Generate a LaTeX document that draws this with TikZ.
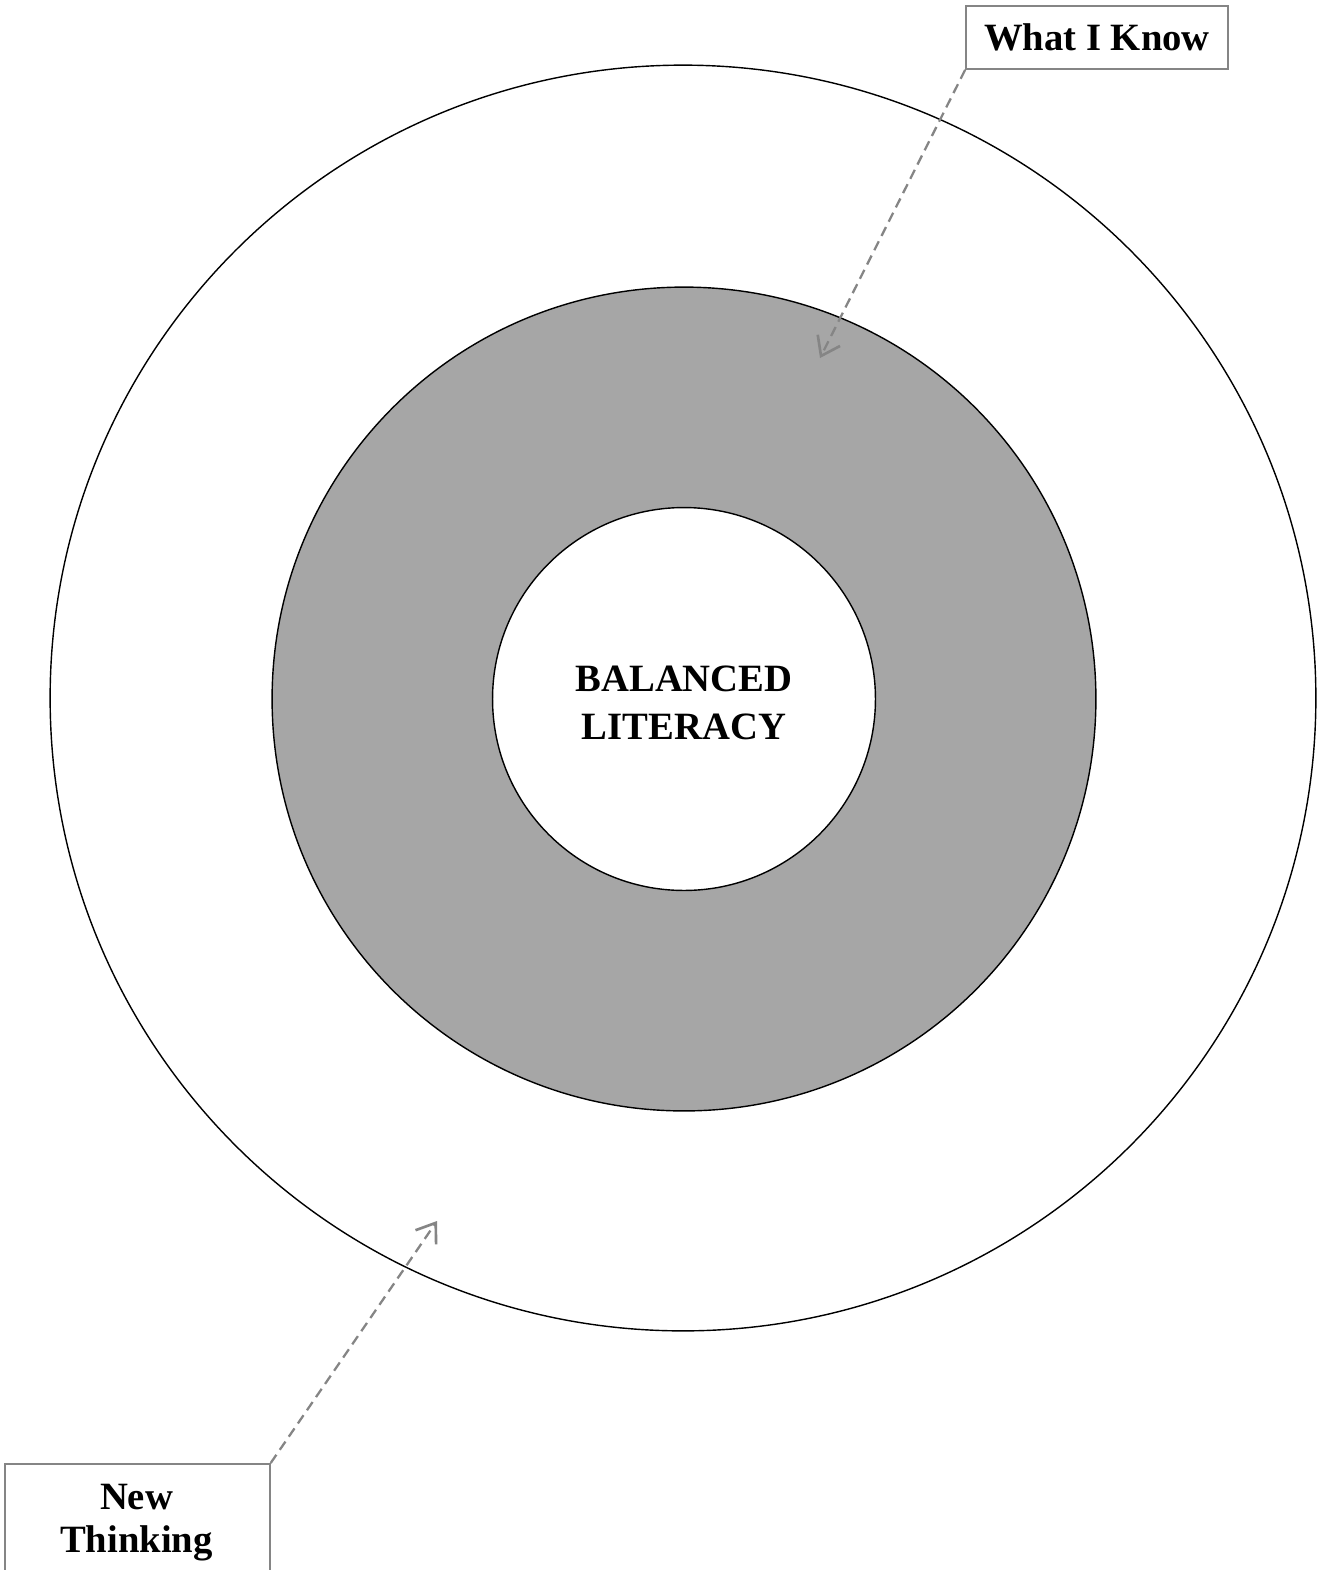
\documentclass[tikz,border=0pt]{standalone}
\usepackage{fontspec}
\setmainfont{Liberation Serif}
\usetikzlibrary{arrows.meta}

\definecolor{ringgray}{HTML}{A6A6A6}
\definecolor{linegray}{HTML}{858585}

\tikzset{
	disc/.style = {circle, draw = black, line width = 0.8pt, inner sep = 0pt},
	boldtext/.style = {font = \fontsize{22}{24.5}\selectfont\bfseries, align = center},
	labelbox/.style = {draw = linegray, line width = 1pt, fill = white, inner sep = 0pt, boldtext},
	pointer/.style = {draw = linegray, line width = 1.3pt, dash pattern = on 0.2cm off 0.12cm,
		-{Straight Barb[length = 0.35cm, width = 0.5cm, line width = 1.5pt]}}
}

\begin{document}
\begin{tikzpicture}[x = 0.02cm, y = -0.02cm]

	\clip (0,0) rectangle (1323,1570);
	\useasboundingbox (0,0) rectangle (1323,1570);

	\node [disc, fill = white, minimum size = 25.32cm] (outer) at (683,698) {};
	\node [disc, fill = ringgray, minimum size = 16.48cm] (ring) at (684,699) {};
	\node [disc, fill = white, minimum size = 7.66cm] (core) at (684,699) {};
	\node [boldtext, font = \fontsize{22}{27}\selectfont\bfseries] (coretext) at (684,703) {BALANCED\\LITERACY};

	\node [labelbox, minimum width = 5.24cm, minimum height = 1.26cm] (know) at (1097,37.5) {What I Know};
	\node [labelbox, minimum width = 5.3cm, minimum height = 2.3cm, anchor = north west] (new) at (4,1463) {};
	\node [boldtext] (newtext) at (136.5,1523) {New\\Thinking};

	\coordinate (knowtip) at (820,358);
	\coordinate (newtip) at (437,1221);

	\draw [pointer] (know.south west) -- (knowtip);
	\draw [pointer] (new.north east) -- (newtip);

\end{tikzpicture}
\end{document}
